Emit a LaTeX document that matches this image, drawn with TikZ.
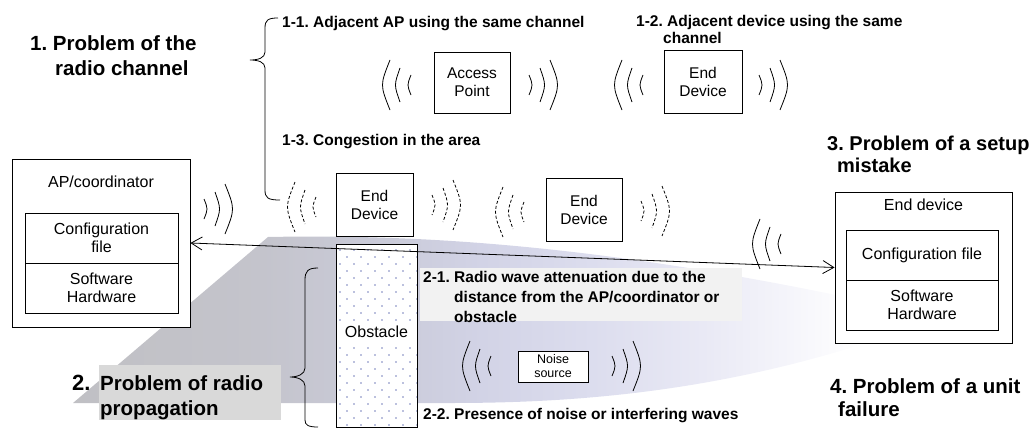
\documentclass[tikz,border=0pt]{standalone}
\usepackage{fontspec}
\setmainfont{Liberation Sans}
\usetikzlibrary{arrows.meta}
\frenchspacing

\definecolor{beamA}{RGB}{192,192,196}
\definecolor{beamB}{RGB}{196,196,204}
\definecolor{beamC}{RGB}{203,204,219}
\definecolor{beamD}{RGB}{210,211,230}
\definecolor{beamE}{RGB}{220,221,238}
\definecolor{beamF}{RGB}{233,233,245}
\definecolor{beamG}{RGB}{246,246,251}
\definecolor{headbg}{RGB}{217,217,217}
\definecolor{notebg}{RGB}{242,242,242}
\definecolor{dotc}{RGB}{120,130,190}

\pgfdeclarehorizontalshading{beam}{100bp}{color(0bp)=(beamA); color(25bp)=(beamA);
  color(37bp)=(beamB); color(46bp)=(beamC); color(51bp)=(beamD); color(58bp)=(beamE);
  color(65bp)=(beamF); color(71bp)=(beamG); color(75bp)=(white); color(100bp)=(white)}

\begin{document}
\begin{tikzpicture}[x=1pt,y=-1pt,
  box/.style={draw,line width=0.8pt,fill=white,inner sep=0pt,align=center,
    font=\fontsize{15.5}{18}\selectfont},
  cell/.style={box,font=\fontsize{16}{18.5}\selectfont},
  sub/.style={font=\fontsize{15.5}{19}\selectfont\bfseries,inner sep=0pt,anchor=base west},
  head/.style={font=\fontsize{20.5}{25}\selectfont\bfseries,inner sep=0pt,anchor=base west},
  wv/.style={line width=0.8pt},
  dwv/.style={line width=0.8pt,dash pattern=on 3pt off 2pt},
  waves/.pic={
    \draw[pic actions] (5,-25) .. controls (-5,0) .. (5,25);
    \draw[pic actions] (15,-17) .. controls (9,0) .. (15,17);
    \draw[pic actions] (26,-10) .. controls (22,0) .. (26,10);
  }
]
\useasboundingbox (0,0) rectangle (1032,428);

% propagation beam in the background
\shade[shading=beam] (73,403) -- (268,237) .. controls (420,234) and (600,245) .. (860,300)
  -- (860,345) .. controls (700,395) and (560,403) .. (450,403) -- cycle;

% text backgrounds
\fill[headbg] (99,365) rectangle (281,420);
\fill[notebg] (420,268) rectangle (742,321);

% headings
\node[head] (h1) at (30,50) {\begin{tabular}[t]{@{}l@{}}1. Problem of the\\\hspace*{25pt}radio channel\end{tabular}};
\node[head,font=\fontsize{22}{25}\selectfont\bfseries] (h2n) at (72,390) {2.};
\node[head] (h2) at (100,390) {\begin{tabular}[t]{@{}l@{}}Problem of radio\\propagation\end{tabular}};
\node[head,font=\fontsize{20}{22}\selectfont\bfseries] (h3) at (827,150) {\begin{tabular}[t]{@{}l@{}}3. Problem of a setup\\\hspace*{10pt}mistake\end{tabular}};
\node[head,font=\fontsize{20.5}{23}\selectfont\bfseries] (h4) at (830,393) {\begin{tabular}[t]{@{}l@{}}4. Problem of a unit\\\hspace*{8pt}failure\end{tabular}};

% sub-headings
\node[sub] (l11) at (282,28) {1-1. Adjacent AP using the same channel};
\node[sub,font=\fontsize{15.5}{17}\selectfont\bfseries] (l12) at (636,27) {\begin{tabular}[t]{@{}l@{}}1-2. Adjacent device using the same\\\hspace*{27pt}channel\end{tabular}};
\node[sub] (l13) at (282,145) {1-3. Congestion in the area};
\node[sub,font=\fontsize{15.5}{20}\selectfont\bfseries] (l21) at (423,282) {\begin{tabular}[t]{@{}l@{\ }l@{}}2-1. & Radio wave attenuation due to the\\ & distance from the AP/coordinator or\\ & obstacle\end{tabular}};
\node[sub] (l22) at (423,419) {2-2. Presence of noise or interfering waves};

% braces
\draw[line width=0.8pt] (278,18) .. controls (268,18) and (265,20) .. (265,28) -- (265,52)
  .. controls (265,58) and (258,60) .. (250,60) .. controls (258,60) and (265,62) .. (265,68)
  -- (265,190) .. controls (265,198) and (268,200) .. (280,200);
\draw[line width=0.8pt] (318,268) .. controls (308,268) and (305,271) .. (305,280) -- (305,368)
  .. controls (305,374) and (298,377) .. (290,377) .. controls (298,377) and (305,380) .. (305,386)
  -- (305,420) .. controls (305,425) and (308,427) .. (318,427);

% radio devices
\node[box,minimum width=76pt,minimum height=61pt] (ap) at (472,82.5) {Access\\Point};
\node[box,minimum width=78pt,minimum height=63pt] (ed1) at (703,81.5) {End\\Device};
\node[box,minimum width=77pt,minimum height=63pt] (ed2) at (374.5,204.5) {End\\Device};
\node[box,minimum width=76pt,minimum height=63pt] (ed3) at (584,209.5) {End\\Device};
\node[box,minimum width=70pt,minimum height=31pt,font=\fontsize{12.5}{14}\selectfont] (noise) at (553,366.5) {Noise\\source};

% obstacle with dotted fill
\node[box,minimum width=81pt,minimum height=183pt,
  path picture={
    \foreach \r in {0,...,10,14,15,...,25}{
      \pgfmathsetmacro{\off}{7*mod(\r,2)}
      \foreach \c in {0,...,5}{
        \fill[dotc] ([shift={(4+\off+14*\c,6+7*\r)}]path picture bounding box.north west) circle (0.8pt);
      }
    }
  }] (obs) at (376.5,335.5) {};
\node[font=\fontsize{16}{18}\selectfont,inner sep=0pt] (obst) at (376.5,332) {Obstacle};

% AP/coordinator unit
\node[box,minimum width=178pt,minimum height=168pt] (apc) at (101,243) {};
\node[font=\fontsize{16}{18}\selectfont,inner sep=0pt] (apct) at (101,182) {AP/coordinator};
\node[cell,minimum width=153pt,minimum height=50pt] (apcf) at (101.5,238) {Configuration\\file};
\node[cell,minimum width=153pt,minimum height=50pt] (apsw) at (101.5,288) {Software\\Hardware};

% end device unit
\node[box,minimum width=177pt,minimum height=151pt] (edr) at (923.5,267.5) {};
\node[font=\fontsize{16}{18}\selectfont,inner sep=0pt] (edrt) at (923.5,205) {End device};
\node[cell,minimum width=152pt,minimum height=50pt] (edcf) at (922,255) {Configuration file};
\node[cell,minimum width=152pt,minimum height=50pt] (edsw) at (922,305) {Software\\Hardware};

% radio waves
\pic[wv] at (385,85) {waves};
\pic[wv,xscale=-1] at (555,85) {waves};
\pic[wv] at (617,85) {waves};
\pic[wv,xscale=-1] at (785,85) {waves};
\pic[dwv] at (290,207) {waves};
\pic[dwv,xscale=-1] at (458,205) {waves};
\pic[dwv] at (498,212) {waves};
\pic[dwv,xscale=-1] at (667,211) {waves};
\pic[wv,xscale=-1] at (230,209) {waves};
\pic[wv] at (755,244) {waves};
\pic[wv] at (465,366) {waves};
\pic[wv,xscale=-1] at (638,366) {waves};

% link between the units
\draw[line width=0.8pt,{Straight Barb[length=11pt,width=13pt]}-{Straight Barb[length=11pt,width=13pt]}] (apc.east) -- (edr.west);
\end{tikzpicture}
\end{document}
